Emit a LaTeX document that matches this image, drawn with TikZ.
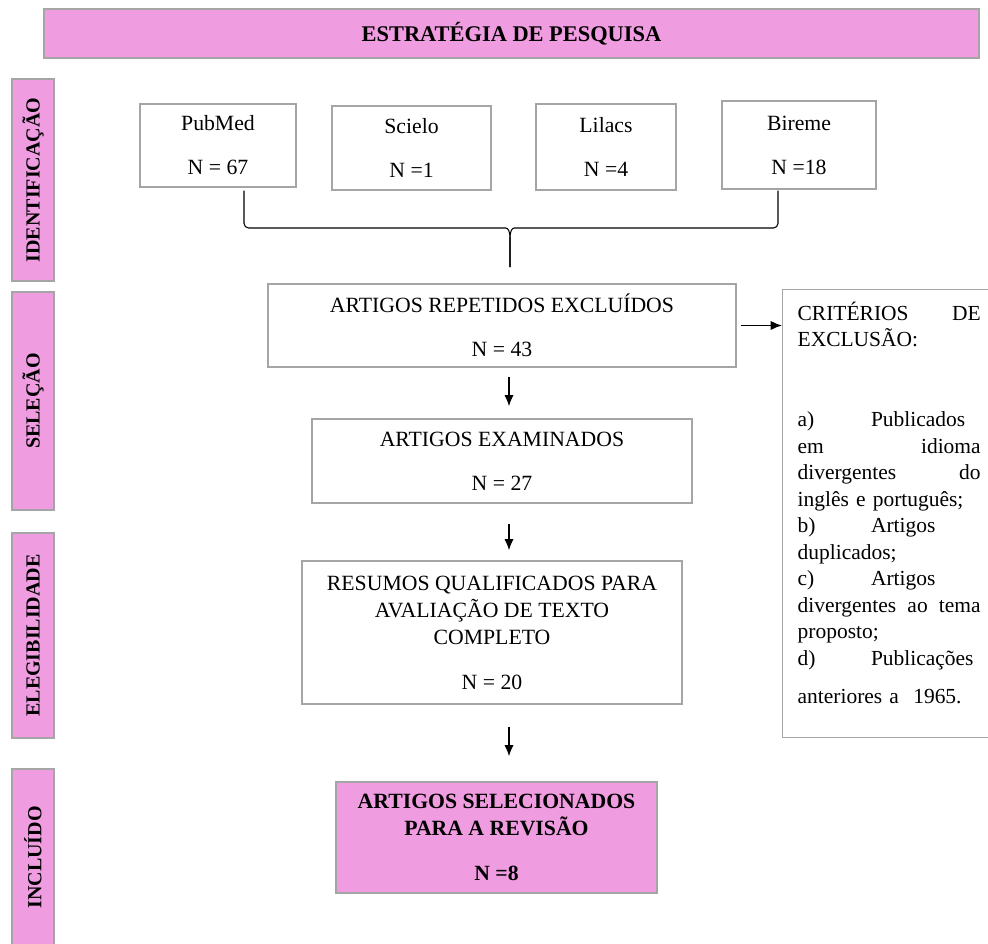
\documentclass[tikz,border=0pt]{standalone}
\usepackage{fontspec}
\setmainfont{Liberation Serif}
\usetikzlibrary{arrows.meta}
\usetikzlibrary{calc}

\definecolor{pinkfill}{RGB}{240,156,224}
\definecolor{boxgray}{RGB}{165,165,165}

\begin{document}
\begin{tikzpicture}[x=0.75pt,y=-0.75pt,
	box/.style={draw=boxgray,line width=1pt,align=center,inner sep=0pt,font=\fontsize{16.3}{20.3}\selectfont},
	pinkbox/.style={box,fill=pinkfill},
	sidebox/.style={pinkbox,rotate=90,minimum height=31.5pt,font=\fontsize{15}{18}\selectfont\bfseries},
	arr/.style={-{Latex[length=8.5pt,width=7pt]},line width=1.1pt},
	brace/.style={line width=0.8pt,rounded corners=3.5pt}]
	\useasboundingbox (0,0) rectangle (988,943);

	\node (title) [pinkbox,minimum width=701.25pt,minimum height=36.75pt,font=\fontsize{16.8}{20}\selectfont\bfseries] at (511.5,33.5) {ESTRATÉGIA DE PESQUISA};

	% fases
	\foreach \name/\yc/\len/\lab in {ident/180/151.5/IDENTIFICAÇÃO, selec/401/163.5/SELEÇÃO, elegib/635.5/153.75/ELEGIBILIDADE, incl/857.5/132.75/INCLUÍDO} {
		\node (\name) [sidebox,minimum width=\len pt] at (33,\yc) {\lab};
	}

	% bases de dados
	\foreach \name/\xc/\yc/\w/\h/\db/\num in {pubmed/218/145.5/117/62.25/PubMed/N = 67, scielo/411.5/148/119.25/63/Scielo/N =1, lilacs/606/147/105/64.5/Lilacs/N =4, bireme/799/145/115.5/66/Bireme/N =18} {
		\node (\name) [box,minimum width=\w pt,minimum height=\h pt] at (\xc,\yc) {\db\\[12.7pt]\num};
	}

	\node (rep) [box,minimum width=351pt,minimum height=62.25pt] at (502,325.5) {ARTIGOS REPETIDOS EXCLUÍDOS\\[12.7pt]N = 43};
	\node (exam) [box,minimum width=285pt,minimum height=63pt] at (502,461) {ARTIGOS EXAMINADOS\\[12.7pt]N = 27};
	\node (resumos) [box,minimum width=285pt,minimum height=107.25pt] at (492,632.5) {RESUMOS QUALIFICADOS PARA\\AVALIAÇÃO DE TEXTO\\COMPLETO\\[13.4pt]N = 20};
	\node (final) [pinkbox,minimum width=240.75pt,minimum height=83.25pt,font=\fontsize{16.3}{20.3}\selectfont\bfseries] at (496.5,837.5) {ARTIGOS SELECIONADOS\\PARA A REVISÃO\\[13.4pt]N =8};

	\node (crit) [box,anchor=north west,align=left,text width=137.25pt,inner xsep=11.25pt,inner ysep=9pt,font=\fontsize{16.1}{19.9}\selectfont] at (782,289) {CRITÉRIOS\hfill DE\\
		EXCLUSÃO:\\[40pt]
		\makebox[55pt][l]{a)}Publicados\\
		em\hfill idioma\\
		divergentes\hfill do\\
		inglês e português;\\
		\makebox[55pt][l]{b)}Artigos\\
		duplicados;\\
		\makebox[55pt][l]{c)}Artigos\\
		divergentes\hfill ao\hfill tema\\
		proposto;\\
		\makebox[55pt][l]{d)}Publicações\\[9pt]
		anteriores a\ \ 1965.\rule[-16pt]{0pt}{16pt}};

	% chave
	\coordinate (tip) at (510,267);
	\draw[brace] ($(pubmed.south)+(26,3)$) |- (501,228) .. controls (508,228) and (510,231) .. (510,243) -- (tip);
	\draw[brace] ($(bireme.south)+(-21,1)$) |- (519,228) .. controls (512,228) and (510,231) .. (510,243) -- (tip);

	% setas
	\coordinate (spine) at (509,0);
	\draw[arr,shorten <=6.75pt,shorten >=9pt] (rep.south -| spine) -- (exam.north -| spine);
	\draw[arr,shorten <=15pt,shorten >=7.5pt] (exam.south -| spine) -- (resumos.north -| spine);
	\draw[arr,shorten <=16.5pt,shorten >=18.75pt] (resumos.south -| spine) -- (final.north -| spine);
	\draw[arr,shorten <=3pt] (rep.east) -- (rep.east -| crit.west);
\end{tikzpicture}
\end{document}
